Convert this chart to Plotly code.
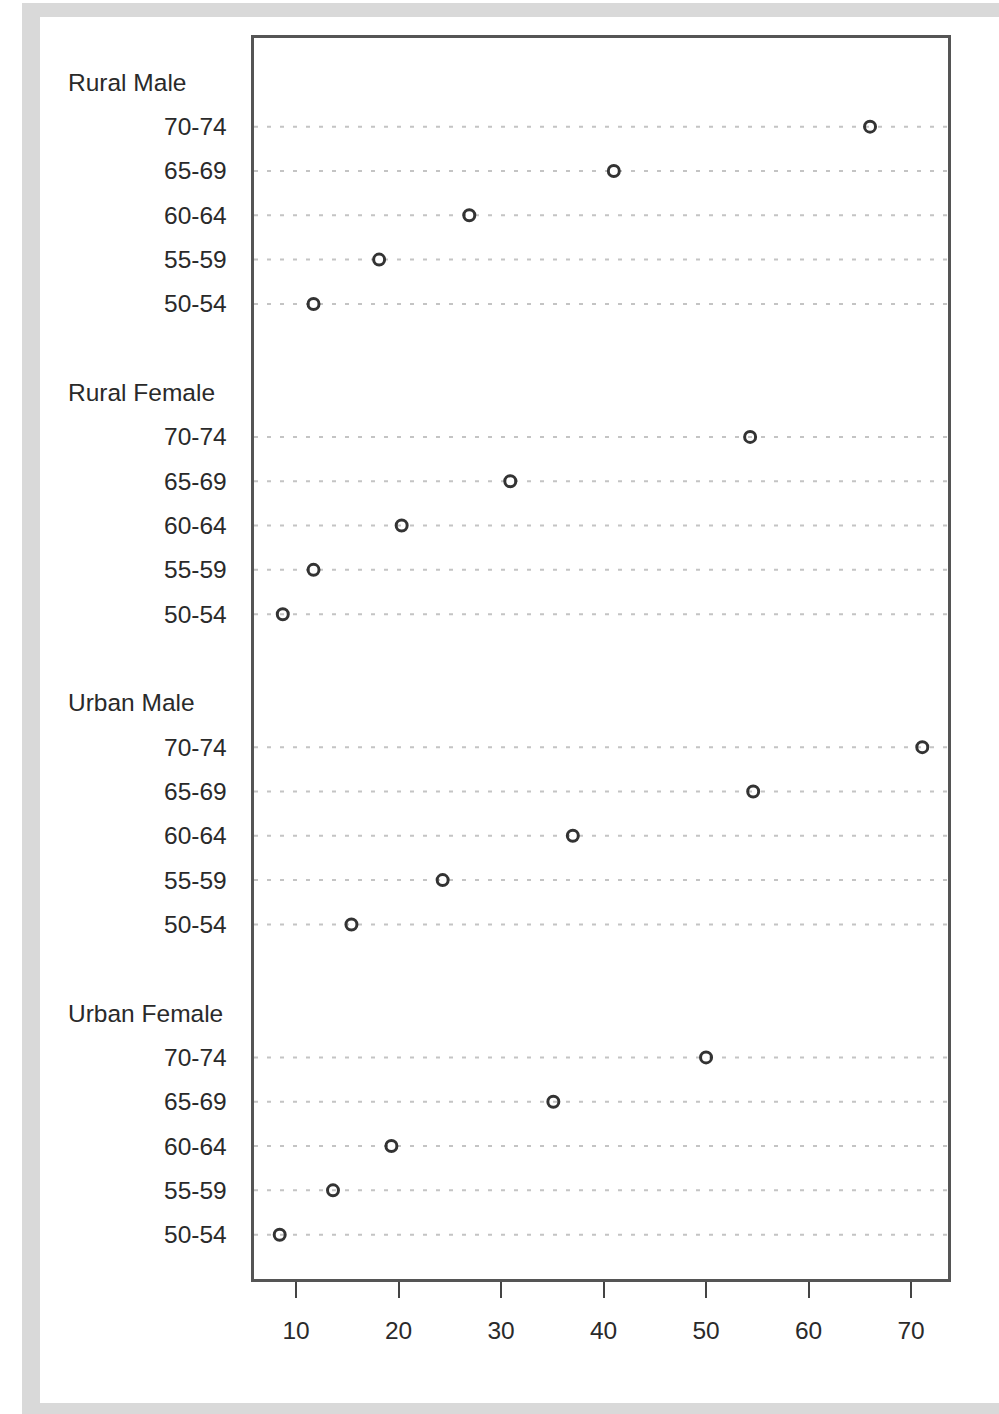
import plotly.graph_objects as go

age_groups = ["50-54", "55-59", "60-64", "65-69", "70-74"]
groups = ["Rural Male", "Rural Female", "Urban Male", "Urban Female"]
rural_male = [11.7, 18.1, 26.9, 41.0, 66.0]
rural_female = [8.7, 11.7, 20.3, 30.9, 54.3]
urban_male = [15.4, 24.3, 37.0, 54.6, 71.1]
urban_female = [8.4, 13.6, 19.3, 35.1, 50.0]
x_ticks = [10, 20, 30, 40, 50, 60, 70]

series = [rural_male, rural_female, urban_male, urban_female]

W, H = 999, 1414
L, R, T, B = 254, 948, 38, 1279
pw, ph = R - L, B - T

def px(x):
    return (x - L) / pw

def py(y):
    return (B - y) / ph

# dotchart layout: bottom group first, 2-line gap between groups
ypos = {}
header_pos = {}
pos = 1
for gi in range(len(groups) - 1, -1, -1):
    g = groups[gi]
    ypos[g] = list(range(pos, pos + len(age_groups)))
    header_pos[g] = pos + len(age_groups)
    pos += len(age_groups) + 2
ymax = header_pos[groups[0]] + 1

allv = [v for s in series for v in s]
span = max(allv) - min(allv)
xr = [min(allv) - 0.04 * span, max(allv) + 0.04 * span]

fig = go.Figure()
shapes = [
    dict(type="rect", xref="paper", yref="paper", x0=px(22), x1=px(1005), y0=py(1420), y1=py(3),
         fillcolor="#d9d9d9", line_width=0, layer="below"),
    dict(type="rect", xref="paper", yref="paper", x0=px(40), x1=px(1005), y0=py(1403), y1=py(17),
         fillcolor="white", line_width=0, layer="below"),
]
annotations = []
font = dict(family="Liberation Sans, Arial, sans-serif", size=24.5, color="#2a2a2a")

for g, s in zip(groups, series):
    ys = ypos[g]
    for y in ys:
        shapes.append(dict(type="line", xref="paper", yref="y", x0=0, x1=1, y0=y, y1=y,
                           line=dict(color="#c4c4c4", width=2, dash="4px,9px"), layer="below"))
    for y, lab in zip(ys, age_groups):
        annotations.append(dict(x=px(229), y=y, xref="paper", yref="y", text=lab,
                                showarrow=False, xanchor="right", yanchor="middle", font=font))
    annotations.append(dict(x=px(66), y=header_pos[g], xref="paper", yref="y", text=g,
                            showarrow=False, xanchor="left", yanchor="middle", font=font))
    fig.add_trace(go.Scatter(
        x=s, y=ys, mode="markers",
        marker=dict(symbol="circle-open", size=11, color="#333333", line=dict(width=3, color="#333333")),
        showlegend=False, hoverinfo="x"))

fig.update_layout(
    width=W, height=H,
    margin=dict(l=L, r=W - R, t=T, b=H - B, pad=0),
    paper_bgcolor="white", plot_bgcolor="white",
    shapes=shapes, annotations=annotations,
    font=font,
    xaxis=dict(range=xr, tickvals=x_ticks, ticks="outside", ticklen=16, tickwidth=1.8,
               tickcolor="#444444", showgrid=False, zeroline=False,
               showline=True, mirror=True, linecolor="#555555", linewidth=2.5,
               ticklabelstandoff=12, tickfont=font),
    yaxis=dict(range=[0, ymax], showticklabels=False, ticks="", showgrid=False, zeroline=False,
               showline=True, mirror=True, linecolor="#555555", linewidth=2.5),
)

fig.write_html("out.html", config={"displayModeBar": False},
               post_script="document.body.style.margin='0';document.body.style.overflow='hidden';")
